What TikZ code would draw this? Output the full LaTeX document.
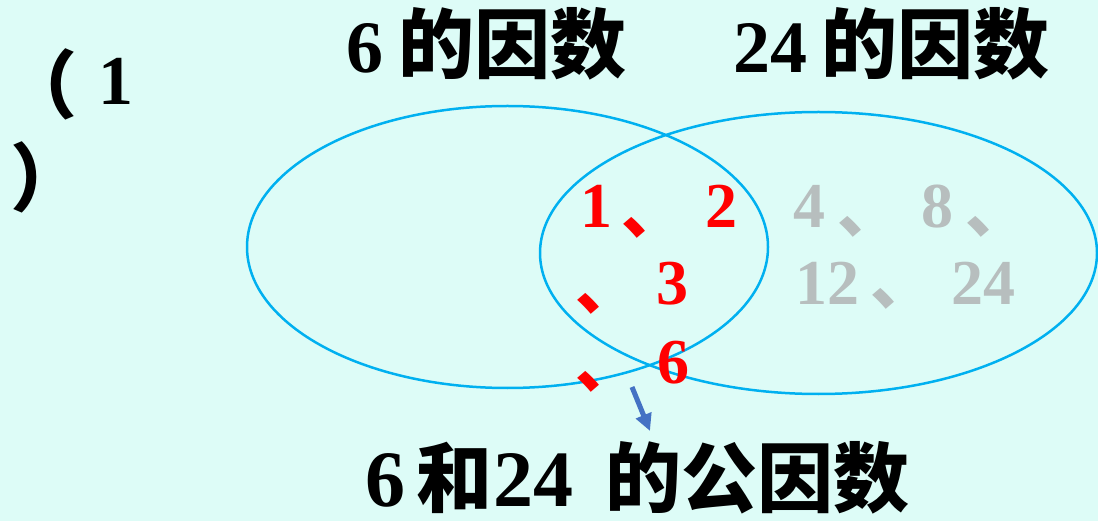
\documentclass[tikz,border=0pt]{standalone}
\usepackage{fontspec}
\setmainfont{Liberation Serif}
\newfontfamily\cjk{Noto Sans CJK SC}
\usetikzlibrary{arrows.meta}
\definecolor{bg}{HTML}{DDFCF7}
\definecolor{ring}{HTML}{00B0F0}
\definecolor{common}{HTML}{FF0000}
\definecolor{other}{HTML}{B7BEBE}
\definecolor{pointer}{HTML}{4472C4}
\newcommand{\zh}[1]{{\cjk\fontsize{76}{82}\selectfont #1}}
\tikzset{
  txt/.style={inner sep=0pt, anchor=base west, font=\bfseries\fontsize{74}{80}\selectfont},
  num/.style={inner sep=0pt, anchor=base west, font=\bfseries\fontsize{64}{70}\selectfont},
  ring/.style={draw=ring, line width=2.5pt},
  pointer/.style={draw=pointer, line width=5pt, -{Triangle[width=16pt,length=17pt]}}
}
\begin{document}
\begin{tikzpicture}[x=1pt,y=-1pt]
\fill[bg] (0,0) rectangle (1098,521);
\useasboundingbox (0,0) rectangle (1098,521);
% ellipses
\draw[ring] (507.5,247) ellipse [x radius=260.5, y radius=141];
\draw[ring] (818.5,253) ellipse [x radius=278.5, y radius=141];
% titles
\node[txt] (t6) at (346,73) {6\hspace{15pt}\zh{的因数}};
\node[txt] (t24) at (733,73) {24\hspace{14pt}\zh{的因数}};
% left label
\node[txt] (lp) at (3,113) {\cjk （};
\node[txt, font=\bfseries\fontsize{70}{76}\selectfont] (one) at (98,105) {1};
\node[txt] (rp) at (10,206) {\cjk ）};
% common factors
\begin{scope}[every node/.append style={text=common}]
\node[num] (c1) at (580,228) {1};
\node[num] (s1) at (621,234) {\cjk 、};
\node[num] (c2) at (705,228) {2};
\node[num] (s2) at (575,310) {\cjk 、};
\node[num] (c3) at (656,305) {3};
\node[num] (s3) at (575,387) {\cjk 、};
\node[num] (c6) at (657,383) {6};
\end{scope}
% other factors
\begin{scope}[every node/.append style={text=other}]
\node[num] (o4) at (793,228) {4};
\node[num] (s4) at (837,233) {\cjk 、};
\node[num] (o8) at (921,228) {8};
\node[num] (s5) at (965,233) {\cjk 、};
\node[num] (o12) at (795,305) {12};
\node[num] (s6) at (870,305) {\cjk 、};
\node[num] (o24) at (951,305) {24};
\end{scope}
% pointer
\coordinate (pa) at (632,387);
\coordinate (pb) at (650,431);
\draw[pointer] (pa) -- (pb);
% bottom label
\node[txt, text depth=0pt, font=\bfseries\fontsize{80}{86}\selectfont] (bottom) at (365,506) {6\hspace{11pt}\zh{和}\hspace{1pt}24\hspace{32pt}\zh{的公因数}};
\end{tikzpicture}
\end{document}
